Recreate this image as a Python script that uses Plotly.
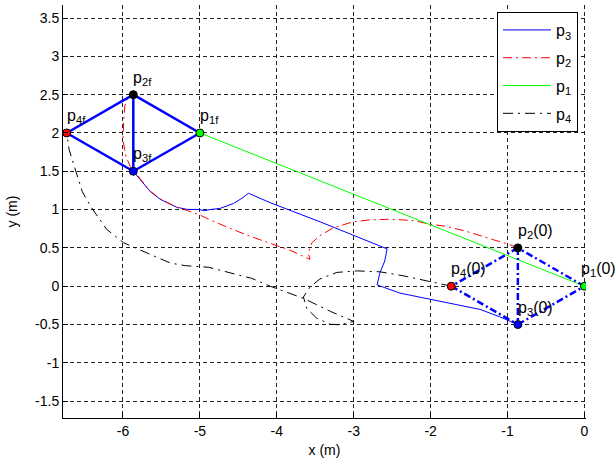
import plotly.graph_objects as go

# ---- data ----
# trajectories
p1_x = [0.0, -5.0]
p1_y = [0.0, 2.0]

p3_x = [-0.866, -1.10, -1.357, -1.70, -2.009, -2.40, -2.696, -2.661, -2.597, -2.566,
        -3.437, -4.086, -4.368, -4.455, -4.563, -4.736, -4.866, -4.95, -5.0, -5.17,
        -5.30, -5.515, -5.645, -5.775, -5.866]
p3_y = [-0.5, -0.40, -0.303, -0.235, -0.173, -0.09, 0.017, 0.171, 0.329, 0.487,
        0.84, 1.09, 1.213, 1.147, 1.08, 1.016, 1.0, 0.985, 1.0, 1.003,
        1.03, 1.134, 1.235, 1.388, 1.5]

p2_x = [-0.866, -0.965, -1.183, -1.53, -1.79, -2.01, -2.226, -2.53, -2.79, -3.01,
        -3.27, -3.44, -3.547, -3.59, -3.57, -3.827, -4.086, -4.39, -4.866, -5.0,
        -5.17, -5.30, -5.515, -5.645, -5.775, -5.905, -5.96, -6.0, -5.99, -5.978,
        -5.956, -5.866]
p2_y = [0.5, 0.54, 0.606, 0.714, 0.78, 0.81, 0.857, 0.874, 0.866, 0.84,
        0.76, 0.66, 0.564, 0.436, 0.35, 0.47, 0.56, 0.667, 0.863, 0.93,
        0.99, 1.03, 1.14, 1.24, 1.40, 1.56, 1.69, 1.9, 2.17, 2.34,
        2.43, 2.5]

p4_x = [-1.732, -2.057, -2.36, -2.66, -2.96, -3.22, -3.44, -3.57, -3.654, -3.61,
        -3.48, -3.31, -3.18, -3.0, -3.30, -3.65, -4.086, -4.325, -4.606, -4.887,
        -5.19, -5.385, -5.62, -5.99, -6.21, -6.42, -6.53, -6.64, -6.70, -6.732]
p4_y = [0.0, 0.073, 0.137, 0.188, 0.2, 0.18, 0.094, -0.013, -0.141, -0.291,
        -0.419, -0.496, -0.504, -0.46, -0.33, -0.16, 0.0, 0.102, 0.177, 0.247,
        0.268, 0.303, 0.404, 0.566, 0.74, 1.04, 1.235, 1.606, 1.781, 2.0]

# formations (p1, p2, p3, p4)
init_x = [0.0, -0.866, -0.866, -1.732]
init_y = [0.0, 0.5, -0.5, 0.0]
final_x = [-5.0, -5.866, -5.866, -6.732]
final_y = [2.0, 2.5, 1.5, 2.0]
edges = [(0, 1), (1, 2), (2, 0), (1, 3), (3, 2)]
point_colors = ["#00ff00", "#000000", "#0000ff", "#ff0000"]
init_labels = ["p<sub>1</sub>(0)", "p<sub>2</sub>(0)", "p<sub>3</sub>(0)", "p<sub>4</sub>(0)"]
final_labels = ["p<sub>1f</sub>", "p<sub>2f</sub>", "p<sub>3f</sub>", "p<sub>4f</sub>"]

x_ticks = [-6, -5, -4, -3, -2, -1, 0]
y_ticks = [-1.5, -1, -0.5, 0, 0.5, 1, 1.5, 2, 2.5, 3, 3.5]
x_range = [-6.78, 0.02]
y_range = [-1.72, 3.67]

FONT = "Liberation Sans, Arial, Helvetica, sans-serif"
DASHDOT = "9px,4px,2px,4px"


def edge_xy(px, py):
    xs, ys = [], []
    for a, b in edges:
        xs += [px[a], px[b], None]
        ys += [py[a], py[b], None]
    return xs, ys


fig = go.Figure()

# trajectories (legend order: p3, p2, p1, p4)
fig.add_trace(go.Scatter(x=p3_x, y=p3_y, mode="lines", name="p<sub>3</sub>",
                         line=dict(color="#0000ff", width=1), legendgroup="g3"))
fig.add_trace(go.Scatter(x=p2_x, y=p2_y, mode="lines", name="p<sub>2</sub>",
                         line=dict(color="#ff0000", width=1, dash=DASHDOT), legendgroup="g2"))
fig.add_trace(go.Scatter(x=p1_x, y=p1_y, mode="lines", name="p<sub>1</sub>",
                         line=dict(color="#00ff00", width=1), legendgroup="g1"))
fig.add_trace(go.Scatter(x=p4_x, y=p4_y, mode="lines", name="p<sub>4</sub>",
                         line=dict(color="#000000", width=1, dash="10px,5px,2px,5px"), legendgroup="g4"))

# formations
ix, iy = edge_xy(init_x, init_y)
fig.add_trace(go.Scatter(x=ix, y=iy, mode="lines", showlegend=False,
                         line=dict(color="#0000ff", width=2.5, dash="7px,3px,2px,3px")))
fx, fy = edge_xy(final_x, final_y)
fig.add_trace(go.Scatter(x=fx, y=fy, mode="lines", showlegend=False,
                         line=dict(color="#0000ff", width=2.5)))

# points
fig.add_trace(go.Scatter(x=init_x + final_x, y=init_y + final_y, mode="markers",
                         showlegend=False,
                         marker=dict(size=8, color=point_colors + point_colors,
                                     line=dict(color="#000000", width=1))))

annotations = []
for i, (lx, ly, txt) in enumerate(zip(init_x + final_x, init_y + final_y,
                                      init_labels + final_labels)):
    annotations.append(dict(x=lx, y=ly, text=txt, showarrow=False, xanchor="left",
                            yanchor="bottom", xshift=(-5 if i == 0 else -2), yshift=5,
                            font=dict(family=FONT, size=16, color="#000000")))

axis_common = dict(showline=True, linecolor="#000000", linewidth=1, mirror=False,
                   showgrid=True, gridcolor="#222222", gridwidth=1, griddash="4px,3px",
                   zeroline=False, ticks="inside", ticklen=5, tickcolor="#000000",
                   tickfont=dict(family=FONT, size=14, color="#000000"))

fig.update_layout(
    width=616, height=467,
    margin=dict(l=63, r=30, t=5, b=49),
    plot_bgcolor="#ffffff", paper_bgcolor="#ffffff",
    font=dict(family=FONT, color="#000000"),
    xaxis=dict(range=x_range, tickvals=x_ticks, ticktext=[str(v) for v in x_ticks],
               title=dict(text="x (m)", font=dict(family=FONT, size=14), standoff=7),
               **axis_common),
    yaxis=dict(range=y_range, tickvals=y_ticks, ticktext=[("%g" % v) for v in y_ticks],
               title=dict(text="y (m)", font=dict(family=FONT, size=14), standoff=14),
               **axis_common),
    legend=dict(x=0.8298, y=0.983, xanchor="left", yanchor="top",
                bordercolor="#000000", borderwidth=1, bgcolor="#ffffff",
                font=dict(family=FONT, size=16, color="#000000"),
                tracegroupgap=4, itemwidth=48),
    annotations=annotations,
    showlegend=True,
)

fig.write_html("out.html")
